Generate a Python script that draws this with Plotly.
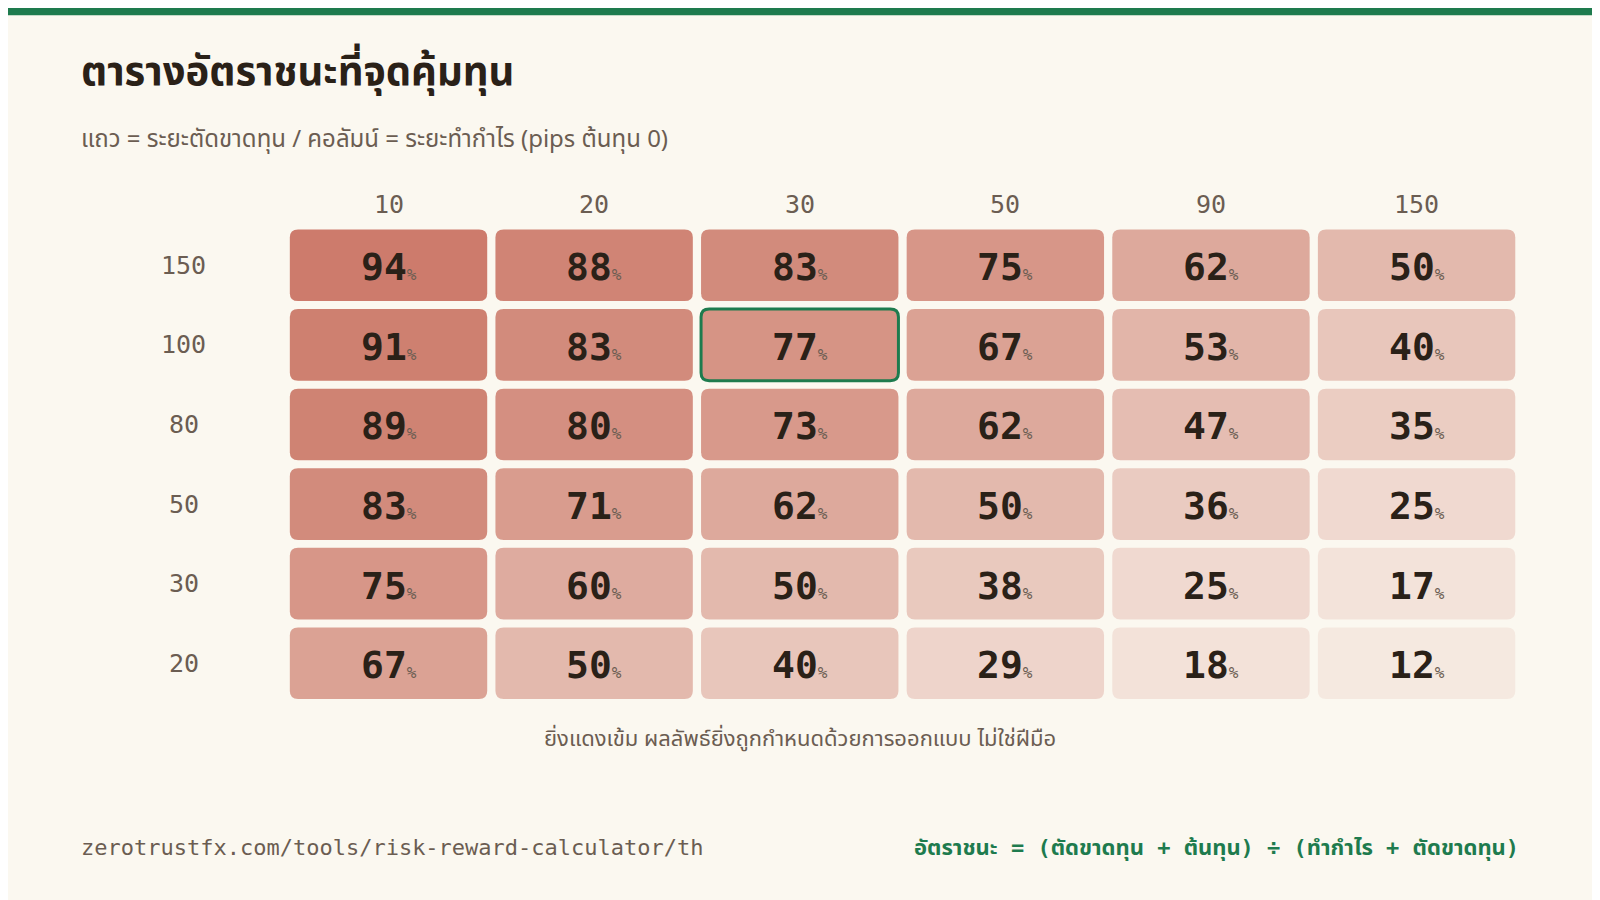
import plotly.graph_objects as go

cols = ["10", "20", "30", "50", "90", "150"]
rows = ["150", "100", "80", "50", "30", "20"]
values = [
    [94, 88, 83, 75, 62, 50],
    [91, 83, 77, 67, 53, 40],
    [89, 80, 73, 62, 47, 35],
    [83, 71, 62, 50, 36, 25],
    [75, 60, 50, 38, 25, 17],
    [67, 50, 40, 29, 18, 12],
]
highlight = ("100", "30")

BG = "#fbf8f0"
GREEN = "#1e7b4e"
DARK = "#2a2118"
GRAY = "#6b5d52"
LIGHT = (248, 240, 232)
STRONG = (204, 122, 106)
W, H = 1600, 900
S = 1600 / 1568

def px(r):  # reference px -> paper x
    return (r * S - 8) / W

def py(r):  # reference px -> paper y
    return 1 - (r * S - 8) / H

def col(v):
    t = max(0, min(1, (v - 5) / (95 - 5))) ** 1.1
    c = [round(LIGHT[i] + (STRONG[i] - LIGHT[i]) * t) for i in range(3)]
    return "rgb(%d,%d,%d)" % tuple(c)

def rpath(x0, x1, y0, y1, rx, ry):
    return (f"M{x0+rx},{y0} L{x1-rx},{y0} Q{x1},{y0} {x1},{y0+ry} L{x1},{y1-ry} Q{x1},{y1} {x1-rx},{y1} "
            f"L{x0+rx},{y1} Q{x0},{y1} {x0},{y1-ry} L{x0},{y0+ry} Q{x0},{y0} {x0+rx},{y0} Z")

fig = go.Figure()
fig.add_trace(go.Scatter(x=[0, 5], y=[0, 5], mode="markers", marker=dict(opacity=0), hoverinfo="skip", showlegend=False))

gx, gy = 0.02, 0.05
shapes = []
ann = []
mono = "DejaVu Sans Mono"
thai = "Noto Sans Thai, Noto Sans, DejaVu Sans, sans-serif"
for ri, r in enumerate(rows):
    for ci, c in enumerate(cols):
        v = values[ri][ci]
        x0, x1 = ci - 0.5 + gx, ci + 0.5 - gx
        y0, y1 = ri - 0.5 + gy, ri + 0.5 - gy
        hl = (r, c) == highlight
        shapes.append(dict(type="path", xref="x", yref="y", path=rpath(x0, x1, y0, y1, 0.04, 0.1),
                           fillcolor=col(v), line=dict(color=GREEN if hl else "rgba(0,0,0,0)", width=3 if hl else 0),
                           layer="below"))
        ann.append(dict(x=ci, y=ri, xref="x", yref="y", showarrow=False, yanchor="middle", xanchor="center",
                        text=f"<b>{v}</b><span style='font-size:16px;color:#6b5d52'>%</span>",
                        font=dict(family=mono, size=38, color=DARK), yshift=-2))
for ci, c in enumerate(cols):
    ann.append(dict(x=ci, y=py(200), xref="x", yref="paper", showarrow=False, text=c, yanchor="middle",
                    xanchor="center", font=dict(family=mono, size=25, color=GRAY)))
for ri, r in enumerate(rows):
    ann.append(dict(x=px(180), y=ri, xref="paper", yref="y", showarrow=False, text=r, yanchor="middle",
                    xanchor="center", font=dict(family=mono, size=25, color=GRAY)))

ann += [
    dict(x=px(77), y=py(72), xref="paper", yref="paper", xanchor="left", yanchor="middle", showarrow=False,
         text="<b>ตารางอัตราชนะที่จุดคุ้มทุน</b>", font=dict(family=thai, size=40, color=DARK)),
    dict(x=px(77), y=py(137), xref="paper", yref="paper", xanchor="left", yanchor="middle", showarrow=False,
         text="แถว = ระยะตัดขาดทุน / คอลัมน์ = ระยะทำกำไร (pips ต้นทุน 0)", font=dict(family=thai, size=24, color=GRAY)),
    dict(x=px(784), y=py(725), xref="paper", yref="paper", xanchor="center", yanchor="middle", showarrow=False,
         text="ยิ่งแดงเข้ม ผลลัพธ์ยิ่งถูกกำหนดด้วยการออกแบบ ไม่ใช่ฝีมือ", font=dict(family=thai, size=22, color=GRAY)),
    dict(x=px(77), y=py(831), xref="paper", yref="paper", xanchor="left", yanchor="middle", showarrow=False,
         text="zerotrustfx.com/tools/risk-reward-calculator/th", font=dict(family=mono, size=22, color=GRAY)),
    dict(x=px(1491), y=py(831), xref="paper", yref="paper", xanchor="right", yanchor="middle", showarrow=False,
         text="<b>อัตราชนะ = (ตัดขาดทุน + ต้นทุน) ÷ (ทำกำไร + ตัดขาดทุน)</b>",
         font=dict(family="DejaVu Sans Mono, " + thai, size=22, color=GREEN)),
]
shapes.append(dict(type="rect", xref="paper", yref="paper", x0=0, x1=1, y0=py(15), y1=1.02,
                   fillcolor=GREEN, line=dict(width=0)))

fig.update_layout(
    width=W, height=H, paper_bgcolor=BG, plot_bgcolor=BG,
    margin=dict(l=0, r=0, t=0, b=0), shapes=shapes, annotations=ann,
    xaxis=dict(range=[-0.5, 5.5], domain=[px(280), px(1489)], visible=False, fixedrange=True),
    yaxis=dict(range=[5.5, -0.5], domain=[py(689), py(221)], visible=False, fixedrange=True),
    showlegend=False,
)
fig.write_html("out.html")
